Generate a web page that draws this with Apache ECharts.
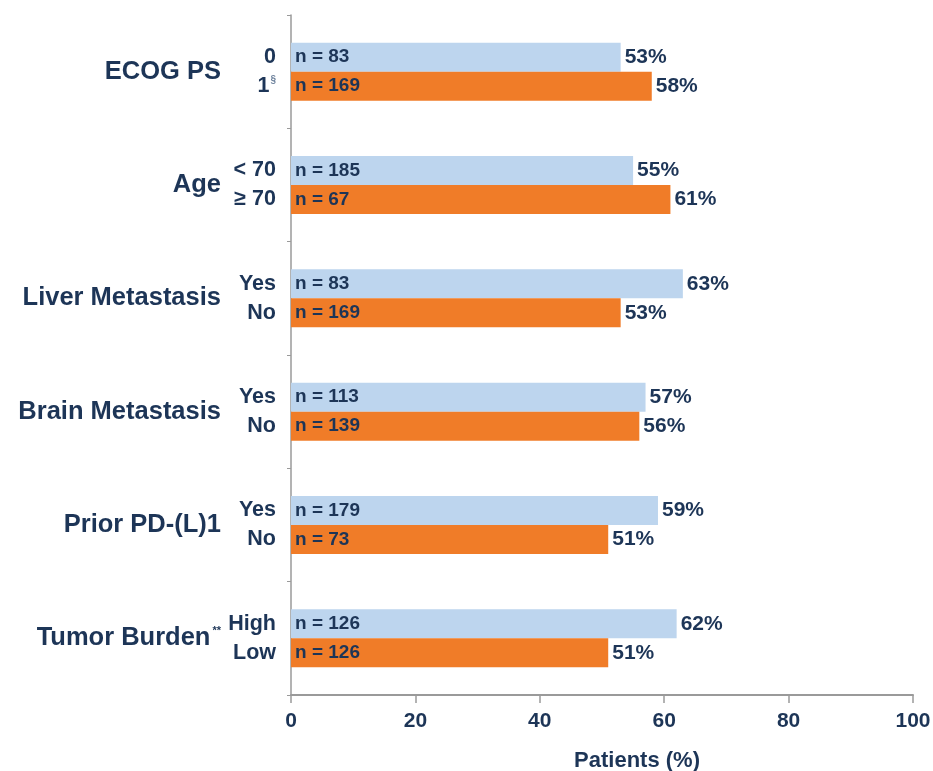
<!DOCTYPE html>
<html>
<head>
<meta charset="utf-8">
<title>Response by subgroup</title>
<script src="https://cdn.jsdelivr.net/npm/echarts@6/dist/echarts.min.js"></script>
<style>
  html, body { margin: 0; padding: 0; background: #fff; }
  #chart { width: 933px; height: 771px; }
</style>
</head>
<body>
<div id="chart"></div>
<script>
// Subgroup data
const groups = ['ECOG PS', 'Age', 'Liver Metastasis', 'Brain Metastasis', 'Prior PD-(L)1', 'Tumor Burden**'];
const firstLabels = ['0', '< 70', 'Yes', 'Yes', 'Yes', 'High'];
const secondLabels = ['1§', '≥ 70', 'No', 'No', 'No', 'Low'];
const firstN = [83, 185, 83, 113, 179, 126];
const secondN = [169, 67, 169, 139, 73, 126];
const firstPct = [53, 55, 63, 57, 59, 62];
const secondPct = [58, 61, 53, 56, 51, 51];
const xTicks = [0, 20, 40, 60, 80, 100];

const navy = '#1d3557';
const lightBlue = '#bdd5ee';
const orange = '#f07c28';
const font = "'Liberation Sans Narrow', 'Arial Narrow', 'Liberation Sans', Arial, sans-serif";

const chart = echarts.init(document.getElementById('chart'));

// superscript marks (§, **) rendered as rich text
function supText(s) {
  return s.replace(/(§|\*\*)/g, '{sup|$1}');
}

function categoryAxis(show) {
  return {
    type: 'category',
    data: groups,
    inverse: true,
    show: show,
    axisLine: { show: show, lineStyle: { color: '#9a9a9a', width: 1.5 } },
    axisTick: { show: show, length: 4, lineStyle: { color: '#9a9a9a' } },
    axisLabel: {
      show: show,
      margin: 70,
      color: navy,
      fontFamily: font,
      fontWeight: 'bold',
      fontSize: 25.5,
      formatter: v => supText(v),
      rich: {
        sup: { fontSize: 11, verticalAlign: 'top', color: navy, fontWeight: 'bold', fontFamily: font, padding: [0, 0, 12, 2] }
      }
    }
  };
}

const barBase = { type: 'bar', barWidth: 29, barGap: '0%' };

function overlay(yIndex, values, labelCfg) {
  return Object.assign({}, barBase, {
    yAxisIndex: yIndex,
    silent: true,
    data: values,
    itemStyle: { color: 'rgba(0,0,0,0)' },
    label: labelCfg
  });
}

const pctLabel = {
  show: true, position: 'right', distance: 4, formatter: '{c}%',
  color: navy, fontFamily: font, fontWeight: 'bold', fontSize: 21
};

const option = {
  animation: false,
  backgroundColor: '#ffffff',
  grid: { left: 291, right: 20, top: 15, bottom: 76, outerBoundsMode: 'none', containLabel: false },
  xAxis: {
    type: 'value',
    min: 0,
    max: 100,
    interval: 20,
    splitLine: { show: false },
    axisLine: { show: true, lineStyle: { color: '#9a9a9a', width: 2 } },
    axisTick: { show: true, length: 8, lineStyle: { color: '#9a9a9a', width: 1.5 } },
    axisLabel: {
      color: navy, fontFamily: font, fontWeight: 'bold', fontSize: 21, margin: 16,
      formatter: v => (xTicks.includes(v) ? String(v) : '')
    },
    name: 'Patients (%)',
    nameLocation: 'middle',
    nameGap: 55,
    nameTextStyle: { color: navy, fontFamily: font, fontWeight: 'bold', fontSize: 22, padding: [0, 0, 0, 70] }
  },
  yAxis: [categoryAxis(true), categoryAxis(false), categoryAxis(false)],
  series: [
    Object.assign({}, barBase, {
      name: 'first',
      data: firstPct,
      itemStyle: { color: lightBlue },
      label: pctLabel
    }),
    Object.assign({}, barBase, {
      name: 'second',
      data: secondPct,
      itemStyle: { color: orange },
      label: pctLabel
    }),
    // "n = ..." inside bars
    overlay(1, firstPct, {
      show: true, position: 'insideLeft', distance: 4,
      formatter: p => 'n = ' + firstN[p.dataIndex],
      color: navy, fontFamily: font, fontWeight: 'bold', fontSize: 19
    }),
    overlay(1, secondPct, {
      show: true, position: 'insideLeft', distance: 4,
      formatter: p => 'n = ' + secondN[p.dataIndex],
      color: navy, fontFamily: font, fontWeight: 'bold', fontSize: 19
    }),
    // subgroup labels left of the axis
    overlay(2, firstPct, {
      show: true, position: 'left', distance: 15,
      formatter: p => supText(firstLabels[p.dataIndex]),
      color: navy, fontFamily: font, fontWeight: 'bold', fontSize: 21.5,
      rich: { sup: { fontSize: 10, verticalAlign: 'top', color: '#6a7f9a', fontFamily: font, padding: [0, 0, 10, 1] } }
    }),
    overlay(2, secondPct, {
      show: true, position: 'left', distance: 15,
      formatter: p => supText(secondLabels[p.dataIndex]),
      color: navy, fontFamily: font, fontWeight: 'bold', fontSize: 21.5,
      rich: { sup: { fontSize: 10, verticalAlign: 'top', color: '#6a7f9a', fontFamily: font, padding: [0, 0, 10, 1] } }
    })
  ]
};

chart.setOption(option);
</script>
</body>
</html>
